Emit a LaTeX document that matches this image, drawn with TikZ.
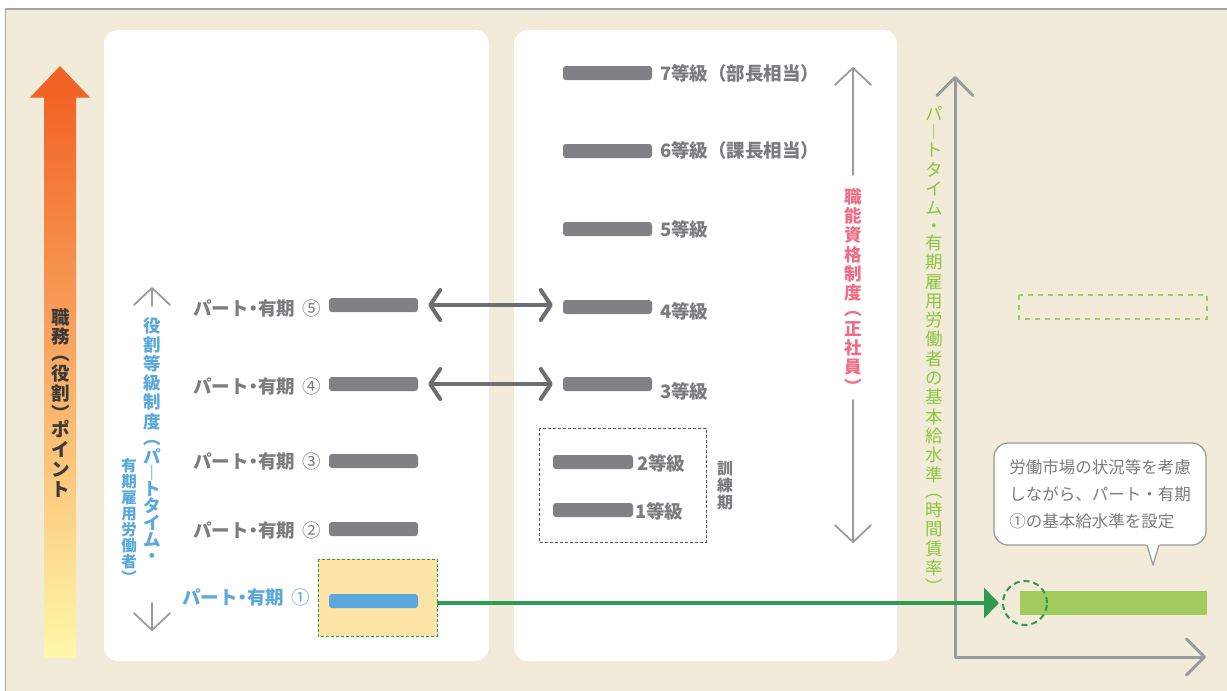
\documentclass[tikz,border=0pt]{standalone}
\usepackage{fontspec}
\setmainfont{Noto Sans CJK JP}
\usetikzlibrary{arrows.meta}

\definecolor{bgbeige}{HTML}{F2EBD9}
\definecolor{framegray}{HTML}{A7A7A7}
\definecolor{bargray}{HTML}{808184}
\definecolor{textgray}{HTML}{7B7C7E}
\definecolor{darkarrow}{HTML}{6D6E71}
\definecolor{axisgray}{HTML}{9A9B9D}
\definecolor{inkdark}{HTML}{3A3A3A}
\definecolor{roleblue}{HTML}{5AA8DC}
\definecolor{gradepink}{HTML}{EF6E85}
\definecolor{wagegreen}{HTML}{8CC63F}
\definecolor{barlime}{HTML}{A2CD5E}
\definecolor{deepgreen}{HTML}{2E9A52}
\definecolor{hlfill}{HTML}{FDE3A6}
\definecolor{orangetop}{HTML}{F26426}
\definecolor{orangemid}{HTML}{F8A55E}
\definecolor{orangebot}{HTML}{FFF8A8}

% narrow middle dot used in the row labels
\newcommand{\ndot}{\hspace{-4.5pt}・\hspace{-4.5pt}}

\begin{document}
\begin{tikzpicture}[x=1pt,y=-1pt,
  bar/.style={fill=bargray, rounded corners=3pt, inner sep=0pt,
    minimum width=89pt, minimum height=14pt},
  smallbar/.style={bar, minimum width=80pt},
  rowlabel/.style={text=textgray, font=\bfseries\fontsize{18.5}{20}\selectfont,
    inner sep=0pt},
  vtext/.style={align=center, inner sep=0pt, anchor=north},
  thinarrow/.style={draw=axisgray, line width=1.8pt, line cap=round,
    -{Straight Barb[round, length=17pt, width=36pt]}},
  dblarrow/.style={draw=darkarrow, line width=4pt, line cap=round,
    {Straight Barb[round, length=10pt, width=30pt]}-{Straight Barb[round, length=10pt, width=30pt]},
    shorten <=10pt, shorten >=10pt},
  axisline/.style={draw=axisgray, line width=3pt, line cap=round, line join=round,
    {Straight Barb[round, length=18pt, width=36pt]}-{Straight Barb[round, length=18pt, width=36pt]}},
  greenarrow/.style={draw=deepgreen, line width=4pt,
    -{Triangle[length=15pt, width=30pt]}, shorten >=3pt},
]
\useasboundingbox (0,0) rectangle (1227,691);
\clip (0,0) rectangle (1227,691);
\fill[white] (0,0) rectangle (1227,691);
\draw[framegray, fill=bgbeige, line width=1.3pt] (5.5,9) rectangle (1240,700);

% two white panels
\fill[white, rounded corners=14pt] (104,30) rectangle (489,661);
\fill[white, rounded corners=14pt] (514,30) rectangle (897,661);

% duty (role) point arrow
\shade[top color=orangetop, middle color=orangemid, bottom color=orangebot]
  (44,96) rectangle (76,657);
\fill[orangetop] (30,97.5) -- (60,66) -- (90,97.5) -- cycle;
\node[vtext, text=inkdark, font=\bfseries\fontsize{18.5}{19.8}\selectfont] (duty) at (61,308)
  {職\\務\\[-3pt]︵\\役\\割\\︶\\[-3pt]ポ\\イ\\ン\\ト};

% role grade system (part-time / fixed-term)
\coordinate (ra-top) at (152,287);
\coordinate (ra-topstem) at (152,306);
\coordinate (ra-bot) at (152,631);
\coordinate (ra-botstem) at (152,603);
\draw[thinarrow] (ra-topstem) -- (ra-top);
\draw[thinarrow] (ra-botstem) -- (ra-bot);
\node[vtext, text=roleblue, font=\bfseries\fontsize{17.5}{19.2}\selectfont] (role1) at (152,317)
  {役\\割\\等\\級\\制\\度\\[-3pt]︵\\パ\\[-3pt]︱\\[-3pt]ト\\[-2.5pt]タ\\[-2.5pt]イ\\[-2.5pt]ム\\[-3pt]・};
\node[vtext, text=roleblue, font=\bfseries\fontsize{15.5}{16}\selectfont] (role2) at (129,458)
  {有\\期\\雇\\用\\労\\働\\者\\︶};

% part-time grades
\fill[hlfill, draw=deepgreen, densely dashed, line width=0.7pt] (318,559) rectangle (437,636);
\coordinate (hl) at (437,603);
\node[bar] (p5) at (373.5,305) {};
\node[bar] (p4) at (373.5,384) {};
\node[bar] (p3) at (373.5,461) {};
\node[bar] (p2) at (373.5,529) {};
\node[bar, fill=roleblue] (p1) at (373.5,601) {};
\node[rowlabel, anchor=east] (lp5) at (321,308) {パート\ndot 有期\hspace{7pt}{\mdseries ⑤}};
\node[rowlabel, anchor=east] (lp4) at (321,386) {パート\ndot 有期\hspace{7pt}{\mdseries ④}};
\node[rowlabel, anchor=east] (lp3) at (321,461) {パート\ndot 有期\hspace{7pt}{\mdseries ③}};
\node[rowlabel, anchor=east] (lp2) at (321,530) {パート\ndot 有期\hspace{7pt}{\mdseries ②}};
\node[rowlabel, anchor=east, text=roleblue] (lp1) at (310,597) {パート\ndot 有期\hspace{7pt}{\mdseries ①}};

% regular employee grades
\node[bar] (g7) at (607.5,73) {};
\node[bar] (g6) at (607.5,151) {};
\node[bar] (g5) at (607.5,229) {};
\node[bar] (g4) at (607.5,307) {};
\node[bar] (g3) at (607.5,384) {};
\node[rowlabel, anchor=west] (lg7) at (660,73) {7等級（部長相当）};
\node[rowlabel, anchor=west] (lg6) at (660,150) {6等級（課長相当）};
\node[rowlabel, anchor=west] (lg5) at (660,229) {5等級};
\node[rowlabel, anchor=west] (lg4) at (660,311) {4等級};
\node[rowlabel, anchor=west] (lg3) at (660,391) {3等級};

% training period
\draw[textgray!70!black, dash pattern=on 3pt off 2pt, line width=0.8pt] (539,428) rectangle (706,542);
\node[smallbar] (g2) at (593,462) {};
\node[smallbar] (g1) at (593,510) {};
\node[rowlabel, anchor=west] (lg2) at (637,463) {2等級};
\node[rowlabel, anchor=west] (lg1) at (635,511) {1等級};
\node[vtext, text=textgray, font=\bfseries\fontsize{16}{17}\selectfont] (train) at (725,461)
  {訓\\練\\期};

% grade equivalences
\draw[dblarrow] (p5.east) -- (p5.east -| g4.west);
\draw[dblarrow] (p4.east) -- (g3.west);

% job qualification system (regular employees)
\coordinate (qa-top) at (853,67);
\coordinate (qa-topstem) at (853,175);
\coordinate (qa-bot) at (853,543);
\coordinate (qa-botstem) at (853,400);
\draw[thinarrow] (qa-topstem) -- (qa-top);
\draw[thinarrow] (qa-botstem) -- (qa-bot);
\node[vtext, text=gradepink, font=\bfseries\fontsize{17.5}{19.3}\selectfont] (qual) at (853,188)
  {職\\能\\資\\格\\制\\度\\[-3pt]︵\\正\\社\\員\\︶};

% wage axes
\coordinate (ax-y) at (955,76);
\coordinate (ax-o) at (955,657);
\coordinate (ax-x) at (1206,657);
\draw[axisline] (ax-y) -- (ax-o) -- (ax-x);
\node[vtext, text=wagegreen, font=\fontsize{17.5}{19.3}\selectfont] (wage) at (934,106)
  {パ\\[-1pt]︱\\[-1pt]ト\\タ\\イ\\ム\\[-2pt]・\\[-2pt]有\\期\\雇\\用\\労\\働\\者\\の\\基\\本\\給\\水\\準\\[-3pt]︵\\時\\間\\賃\\率\\︶};

\draw[barlime, line width=2pt, dash pattern=on 5pt off 5pt] (1019,295) rectangle (1207,319);
\node[fill=barlime, inner sep=0pt, minimum width=187pt, minimum height=24pt] (wbar) at (1113.5,603) {};
\node[draw=deepgreen, circle, line width=2pt, dash pattern=on 6pt off 4pt,
  minimum size=44pt, inner sep=0pt] (dc) at (1025,603) {};
\draw[greenarrow] (hl) -- (dc.west);

% speech bubble
\node[draw=axisgray, line width=1.3pt, fill=white, rounded corners=14pt,
  minimum width=212pt, minimum height=102pt, align=left, text=textgray,
  font=\fontsize{16.5}{27}\selectfont] (note) at (1100,494)
  {労働市場の状況等を考慮\\しながら、パート・有期\\①の基本給水準を設定};
\fill[white] (1146,543) -- (1153,565) -- (1160,543) -- cycle;
\draw[axisgray, line width=1.3pt, line join=round] (1147,545) -- (1153,565) -- (1159,545);
\end{tikzpicture}
\end{document}
